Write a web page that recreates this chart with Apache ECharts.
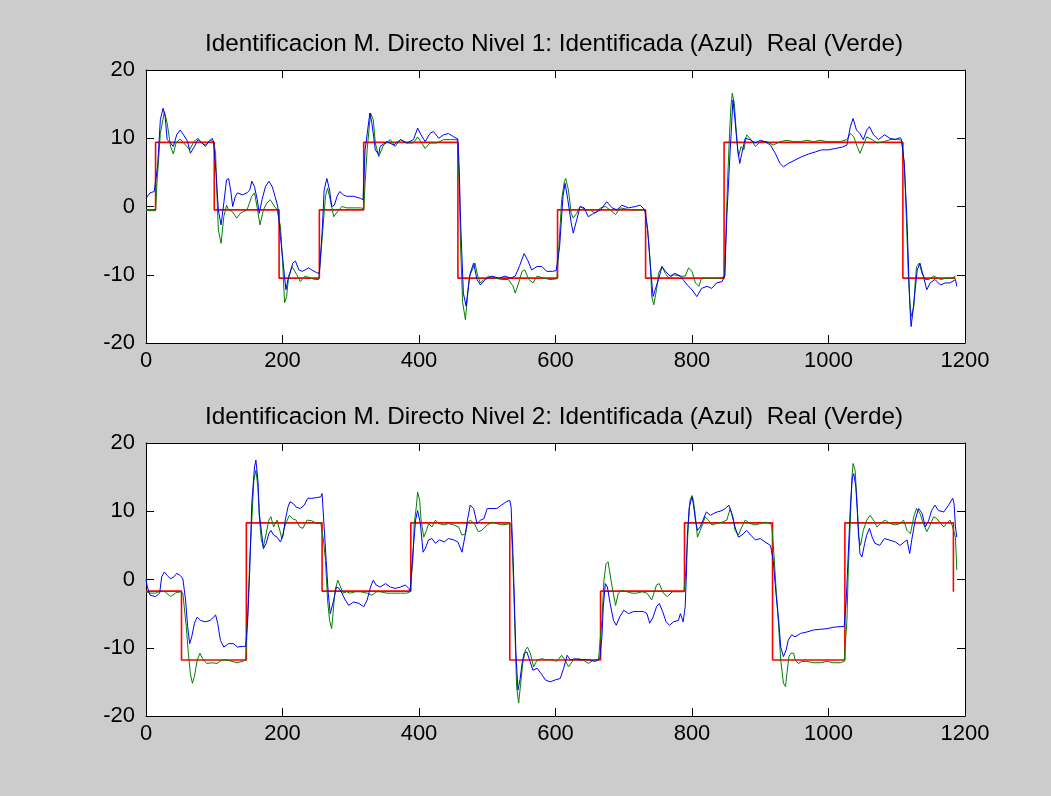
<!DOCTYPE html>
<html>
<head>
<meta charset="utf-8">
<script src="https://cdn.jsdelivr.net/npm/echarts@6/dist/echarts.min.js"></script>
<style>
  html, body { margin: 0; padding: 0; background: #cccccc; }
  #chart { width: 1051px; height: 796px; }
</style>
</head>
<body>
<div id="chart"></div>
<script>
// ejes
const xTicks = [0, 200, 400, 600, 800, 1000, 1200]
const yTicks = [-20, -10, 0, 10, 20]
const titles = [
  'Identificacion M. Directo Nivel 1: Identificada (Azul)  Real (Verde)',
  'Identificacion M. Directo Nivel 2: Identificada (Azul)  Real (Verde)'
]

// referencia (rojo), escalones
const stepX1 = [0, 14, 100, 195, 254, 319, 457, 603, 732, 847, 1109, 1186]
const stepY1 = [-0.5, 9.4, -0.5, -10.5, -0.5, 9.4, -10.5, -0.5, -10.5, 9.4, -10.5, -10.5]
const stepX2 = [0, 52, 147, 258, 388, 533, 666, 789, 918, 1024, 1183, 1183]
const stepY2 = [-1.7, -11.8, 8.3, -1.7, 8.3, -11.8, -1.7, 8.3, -11.8, 8.3, 8.3, -1.8]

// nivel 1 - real (verde)
const real1 = [[0,-0.6],[14,-0.6],[16,3.4],[21,10.7],[27,13.9],[31,12.2],[36,8.8],[40,7.7],[44,9.3],[50,9.9],[58,9.0],[64,8.3],[70,9.5],[76,10.0],[82,9.3],[87,9.0],[94,9.7],[99,9.5],[102,7.8],[104,1.5],[106,-3.4],[110,-5.4],[114,-1.5],[118,0.2],[121,-0.5],[126,-0.7],[133,-1.7],[138,-1.0],[148,-0.5],[155,1.5],[159,2.0],[163,-0.2],[167,-2.7],[172,-0.5],[177,0.5],[182,1.0],[187,0.2],[192,-0.5],[197,-2.9],[200,-7.8],[203,-14.1],[206,-13.2],[209,-10.2],[214,-8.8],[221,-10.0],[226,-11.0],[233,-10.2],[241,-10.5],[248,-10.7],[253,-10.7],[256,-7.3],[259,-3.4],[263,1.5],[266,2.7],[270,1.0],[275,-1.5],[281,-0.7],[287,0],[294,-0.2],[304,-0.2],[314,-0.2],[319,-0.3],[321,3.4],[324,8.3],[329,13.7],[333,12.7],[336,9.3],[341,7.3],[343,7.8],[348,9.0],[358,9.8],[365,8.8],[373,9.8],[382,9.3],[392,9.3],[398,10.2],[404,9.3],[409,8.5],[416,9.3],[426,9.3],[436,9.8],[446,9.8],[456,9.8],[459,3.4],[461,-6.3],[464,-14.1],[468,-16.6],[471,-13.2],[474,-10.2],[478,-9.3],[482,-8.3],[486,-10.2],[490,-11.2],[495,-10.7],[502,-10.2],[512,-10.5],[521,-10.7],[531,-10.7],[538,-11.7],[541,-12.7],[546,-11.2],[551,-9.5],[555,-9.3],[561,-10.7],[567,-11.2],[573,-10.2],[583,-10.5],[592,-10.7],[602,-10.6],[605,-5.9],[609,1.0],[613,3.7],[615,4.1],[619,2.4],[623,-1.0],[626,-1.7],[631,-1.0],[636,0],[644,-0.5],[651,-0.5],[658,-1.0],[666,-0.2],[673,0],[680,-0.5],[688,-1.2],[695,-0.2],[705,-0.4],[714,-0.5],[724,-0.5],[731,-0.5],[735,-3.4],[739,-8.3],[741,-13.2],[744,-14.4],[748,-12.2],[751,-9.8],[756,-8.8],[761,-9.8],[766,-10.5],[773,-10.0],[783,-10.2],[790,-10.2],[795,-9.0],[800,-9.5],[805,-11.2],[810,-11.7],[814,-10.5],[822,-10.5],[832,-10.5],[841,-10.5],[848,-10.2],[850,-2.9],[852,3.4],[855,10.7],[857,14.6],[859,16.6],[862,15.1],[865,10.7],[868,7.3],[872,8.8],[876,8.3],[880,10.5],[885,10.0],[893,8.8],[900,9.5],[910,9.5],[919,9.0],[929,9.5],[939,9.7],[949,9.5],[959,9.5],[968,9.7],[978,9.5],[988,9.7],[998,9.5],[1007,9.5],[1017,9.5],[1027,9.8],[1032,10.7],[1037,10.2],[1042,8.8],[1046,7.8],[1051,9.0],[1056,10.2],[1064,9.8],[1071,9.3],[1081,9.5],[1090,9.8],[1100,9.9],[1107,9.7],[1111,6.3],[1114,-1.5],[1117,-10.2],[1120,-15.1],[1122,-16.1],[1125,-14.6],[1127,-11.2],[1129,-8.8],[1133,-8.3],[1137,-9.8],[1142,-10.7],[1147,-10.7],[1154,-10.2],[1164,-10.7],[1173,-10.5],[1181,-10.5],[1186,-10.2]]

// nivel 1 - identificada (azul)
const ident1 = [[0,1.2],[6,2.0],[12,2.2],[17,5.9],[21,12.7],[25,14.4],[28,13.2],[31,9.8],[36,9.3],[40,8.8],[45,10.5],[50,11.2],[55,10.5],[61,9.5],[65,7.8],[71,8.8],[76,9.8],[82,9.3],[87,8.8],[92,9.5],[97,10.0],[99,9.5],[103,4.4],[106,-0.5],[110,-2.7],[114,0.5],[118,3.9],[121,4.1],[124,2.4],[127,0],[131,1.5],[134,2.0],[141,1.7],[148,2.0],[152,2.4],[155,3.7],[159,2.9],[163,1.0],[166,-1.0],[170,1.0],[175,2.9],[180,3.7],[185,2.9],[189,1.5],[193,0],[197,-4.4],[201,-8.3],[205,-12.2],[208,-10.7],[211,-9.8],[215,-8.3],[219,-8.0],[224,-9.3],[229,-9.5],[233,-9.3],[238,-9.0],[243,-9.3],[250,-9.7],[254,-9.8],[258,-3.9],[261,2.4],[265,4.1],[269,2.4],[272,0],[276,0.2],[280,1.5],[284,2.2],[289,1.7],[294,1.5],[304,1.5],[314,1.2],[318,1.0],[321,8.3],[328,13.7],[331,12.2],[336,8.3],[341,7.6],[343,8.8],[353,9.5],[363,9.0],[373,9.8],[382,9.3],[392,9.8],[398,11.5],[403,10.5],[409,9.5],[416,10.7],[421,11.0],[429,10.0],[436,10.5],[443,10.7],[451,10.2],[457,9.9],[459,5.4],[461,-2.4],[465,-12.7],[469,-14.6],[473,-11.2],[475,-9.8],[480,-8.3],[485,-10.7],[490,-11.5],[497,-10.7],[507,-10.2],[517,-10.5],[526,-10.2],[534,-10.5],[541,-10.2],[547,-8.8],[554,-6.9],[559,-7.8],[565,-9.3],[573,-8.8],[580,-8.8],[587,-9.5],[595,-9.5],[601,-9.4],[606,-5.9],[611,1.5],[614,3.4],[618,1.0],[623,-2.4],[626,-3.9],[631,-2.0],[636,0],[642,-0.2],[648,-1.5],[656,-1.0],[666,-0.5],[675,0.7],[683,-0.2],[690,-0.5],[697,0.2],[707,-0.2],[717,0],[724,0.2],[731,-0.5],[735,-3.4],[739,-8.8],[743,-13.2],[746,-12.2],[751,-10.7],[756,-8.8],[761,-9.5],[768,-10.2],[775,-9.8],[783,-10.2],[793,-11.5],[800,-12.2],[807,-13.2],[814,-12.0],[822,-11.7],[829,-12.0],[836,-11.2],[844,-11.0],[848,-10.2],[851,-1.5],[854,4.4],[856,8.3],[860,15.6],[863,12.7],[867,8.3],[870,6.3],[873,7.8],[878,10.0],[885,9.8],[893,9.3],[900,9.7],[907,9.5],[915,9.0],[922,7.8],[929,6.3],[934,5.8],[941,6.3],[951,6.8],[961,7.3],[971,7.7],[981,8.0],[990,8.3],[1000,8.3],[1010,8.5],[1020,8.7],[1027,9.0],[1032,11.7],[1036,12.9],[1041,11.2],[1046,10.7],[1051,9.8],[1056,11.2],[1060,11.7],[1066,10.5],[1073,9.8],[1082,10.5],[1090,10.0],[1098,9.8],[1105,10.1],[1107,9.8],[1111,6.3],[1115,-2.0],[1119,-14.1],[1121,-17.6],[1124,-15.1],[1127,-12.2],[1130,-9.3],[1134,-8.3],[1139,-10.2],[1144,-12.2],[1149,-11.2],[1156,-10.7],[1164,-11.5],[1171,-11.2],[1178,-11.2],[1186,-10.7],[1188,-11.7]]

// nivel 2 - real (verde)
const real2 = [[0,-1.8],[6,-2.0],[14,-2.0],[21,-1.7],[28,-1.8],[36,-2.5],[43,-2.0],[50,-1.8],[54,-2.0],[56,-4.0],[59,-6.9],[62,-10.8],[65,-13.8],[68,-15.2],[71,-14.2],[75,-11.8],[79,-10.8],[83,-11.6],[89,-12.3],[97,-12.2],[104,-12.3],[111,-11.8],[119,-11.8],[126,-12.0],[133,-12.2],[141,-12.0],[146,-11.8],[149,-5.0],[152,2.8],[155,8.7],[158,14.5],[161,16.0],[164,13.6],[166,9.2],[169,5.8],[172,4.8],[176,6.7],[180,8.7],[183,9.2],[187,7.7],[192,8.7],[196,7.2],[199,6.0],[203,7.7],[207,8.7],[210,9.4],[215,8.9],[220,8.7],[225,7.7],[230,7.5],[236,8.7],[243,8.6],[250,8.2],[256,8.3],[260,5.8],[263,2.8],[266,-3.0],[269,-6.0],[272,-7.2],[274,-5.0],[277,-1.6],[281,-0.1],[285,-1.1],[289,-2.0],[294,-1.8],[299,-2.0],[307,-1.8],[314,-1.8],[324,-2.0],[331,-2.3],[338,-1.8],[343,-1.8],[353,-2.0],[363,-2.0],[373,-2.0],[382,-2.0],[387,-1.8],[391,2.8],[393,8.2],[396,10.6],[398,12.8],[401,11.6],[403,8.7],[407,6.2],[411,7.2],[414,8.2],[419,7.7],[424,8.7],[429,8.2],[436,8.0],[443,8.2],[451,8.0],[458,7.7],[463,6.5],[468,6.7],[471,8.2],[475,8.7],[481,8.2],[487,7.0],[492,7.2],[500,8.0],[507,8.4],[514,8.2],[521,8.0],[529,8.1],[535,8.2],[537,3.8],[539,-2.0],[541,-8.9],[543,-15.7],[546,-18.1],[549,-15.2],[552,-12.3],[556,-10.3],[559,-9.9],[563,-10.8],[568,-12.8],[573,-11.8],[580,-11.6],[587,-11.8],[595,-11.7],[602,-12.0],[609,-11.1],[614,-11.8],[619,-12.8],[626,-11.8],[634,-11.6],[641,-11.8],[648,-12.3],[656,-11.8],[663,-11.7],[668,-6.0],[671,-0.1],[674,2.3],[677,2.6],[679,1.4],[683,-1.1],[688,-3.8],[692,-2.0],[697,-1.6],[705,-1.8],[712,-2.0],[719,-2.0],[727,-1.8],[734,-2.0],[741,-3.0],[748,-0.8],[752,-0.6],[758,-2.0],[764,-2.5],[771,-1.8],[778,-1.8],[783,-1.8],[788,-1.8],[790,-0.1],[793,4.8],[795,8.7],[797,11.6],[800,12.3],[802,11.6],[805,9.2],[808,6.2],[812,7.2],[816,8.2],[819,9.2],[824,8.7],[829,8.0],[836,8.2],[844,8.4],[851,8.7],[856,10.4],[860,9.2],[863,7.2],[868,6.5],[873,7.7],[878,8.7],[885,8.2],[893,8.0],[900,8.2],[907,8.4],[915,8.2],[917,7.7],[920,3.8],[923,-1.1],[927,-6.9],[930,-11.8],[934,-15.2],[937,-15.7],[939,-13.8],[942,-11.3],[945,-10.8],[949,-10.8],[951,-11.8],[956,-12.3],[961,-12.0],[968,-12.0],[978,-12.2],[988,-12.2],[998,-12.0],[1007,-12.2],[1017,-12.2],[1023,-12.0],[1027,-6.0],[1029,1.4],[1032,8.7],[1034,14.5],[1036,17.0],[1039,16.0],[1042,11.1],[1044,6.2],[1047,5.0],[1051,7.2],[1056,8.7],[1061,9.4],[1066,8.7],[1071,7.7],[1076,8.2],[1083,8.7],[1090,8.2],[1098,8.0],[1105,8.2],[1110,8.7],[1115,7.2],[1120,6.7],[1125,9.2],[1129,10.4],[1134,9.7],[1139,8.2],[1144,7.0],[1149,8.0],[1154,9.2],[1159,8.9],[1164,8.2],[1169,7.7],[1173,8.2],[1178,8.7],[1182,7.7],[1186,6.2],[1188,1.4]]

// nivel 2 - identificada (azul)
const ident2 = [[0,0],[2,-1.1],[6,-2.3],[14,-2.5],[20,-2.0],[23,0.4],[27,1.1],[31,0.6],[36,0.1],[41,0.4],[45,0.9],[50,0.6],[54,0.1],[58,-3.0],[61,-6.9],[64,-9.4],[67,-8.4],[71,-6.4],[75,-5.5],[80,-6.0],[87,-6.2],[94,-6.0],[102,-5.2],[105,-6.4],[109,-8.9],[114,-9.9],[121,-9.4],[128,-9.4],[134,-9.9],[141,-9.8],[146,-9.8],[149,-6.0],[152,1.4],[155,11.1],[159,16.5],[161,17.5],[164,14.5],[166,9.7],[169,7.2],[172,4.5],[176,5.3],[180,6.7],[183,7.2],[187,6.5],[192,6.2],[197,5.5],[201,6.5],[204,8.7],[208,10.6],[211,11.4],[216,11.1],[220,10.6],[226,10.4],[232,10.9],[237,11.9],[243,11.9],[250,12.0],[256,12.1],[258,12.6],[261,7.7],[264,2.8],[267,-2.0],[270,-5.0],[272,-5.0],[275,-3.0],[279,-1.1],[283,-1.3],[287,-2.0],[292,-3.0],[297,-3.8],[304,-3.3],[312,-3.5],[319,-4.0],[324,-3.0],[329,-1.1],[333,-0.1],[337,-0.8],[343,-1.1],[351,-0.6],[358,-1.1],[365,-1.3],[373,-1.1],[380,-0.8],[385,-1.3],[387,-1.7],[391,3.8],[395,8.7],[398,10.1],[402,8.2],[406,4.0],[409,4.5],[414,5.8],[419,6.0],[424,5.3],[430,5.8],[437,5.5],[443,6.0],[451,5.8],[457,5.5],[463,4.0],[468,6.7],[471,8.7],[475,10.9],[480,10.4],[485,8.2],[490,8.7],[495,8.9],[500,10.4],[507,10.4],[514,10.4],[521,10.9],[528,11.4],[533,11.6],[535,10.6],[538,2.8],[540,-4.0],[542,-10.8],[545,-16.2],[548,-14.7],[551,-12.3],[554,-10.8],[558,-10.6],[562,-11.8],[567,-13.3],[573,-13.0],[579,-13.8],[585,-14.7],[592,-15.0],[600,-14.7],[607,-14.5],[612,-13.0],[617,-11.1],[622,-11.8],[629,-11.6],[636,-11.8],[644,-11.7],[651,-11.8],[658,-12.0],[665,-11.6],[668,-8.4],[670,-4.0],[673,-0.6],[676,-1.1],[680,-3.5],[685,-6.0],[689,-6.7],[694,-5.5],[700,-4.5],[707,-5.0],[714,-4.7],[722,-4.7],[729,-4.7],[734,-5.0],[738,-6.4],[743,-5.5],[748,-4.0],[752,-3.5],[757,-4.7],[762,-6.2],[767,-6.7],[773,-6.2],[780,-6.0],[783,-5.0],[787,-6.2],[790,-4.0],[792,1.4],[793,6.2],[796,10.6],[800,12.1],[802,11.1],[805,8.7],[808,7.2],[812,7.7],[816,8.7],[821,9.9],[827,9.4],[832,9.7],[837,9.9],[844,10.1],[849,10.4],[854,10.9],[858,9.7],[863,7.7],[868,6.2],[873,6.5],[880,7.2],[886,6.5],[893,5.8],[900,6.0],[907,5.5],[915,5.0],[919,2.8],[923,-2.0],[927,-6.0],[930,-9.9],[934,-11.3],[938,-10.3],[941,-8.9],[946,-8.1],[951,-8.4],[959,-7.9],[968,-7.7],[978,-7.4],[988,-7.3],[998,-7.2],[1007,-7.0],[1017,-6.9],[1023,-6.9],[1026,-3.0],[1029,3.8],[1032,10.6],[1035,15.0],[1037,15.5],[1040,13.6],[1043,8.7],[1046,3.8],[1049,3.3],[1053,5.3],[1056,6.5],[1060,7.5],[1064,6.2],[1068,5.3],[1075,5.0],[1082,6.0],[1089,5.8],[1098,5.5],[1105,5.0],[1111,5.5],[1115,5.8],[1119,3.8],[1122,5.8],[1127,8.7],[1132,10.4],[1137,9.7],[1142,7.7],[1147,8.7],[1151,10.1],[1156,10.9],[1161,10.1],[1169,9.9],[1176,10.9],[1182,11.9],[1184,11.1],[1186,7.7],[1188,6.2]]

const FONT = '"Liberation Sans", Arial, sans-serif'
const plotTops = [70, 443]
const plotH = 273

const chart = echarts.init(document.getElementById('chart'))

const xAxisFor = (gi, pos) => ({
  type: 'value',
  gridIndex: gi,
  position: pos,
  min: xTicks[0],
  max: xTicks[xTicks.length - 1],
  interval: xTicks[1] - xTicks[0],
  axisLine: { show: true, onZero: false, lineStyle: { color: '#000', width: 1 } },
  axisTick: { show: true, inside: true, length: 8, lineStyle: { color: '#000' } },
  axisLabel: {
    show: pos === 'bottom',
    color: '#000',
    fontFamily: FONT,
    fontSize: 22,
    margin: 7,
    formatter: v => String(v)
  },
  splitLine: { show: false }
})

const yAxisFor = (gi, pos) => ({
  type: 'value',
  gridIndex: gi,
  position: pos,
  min: yTicks[0],
  max: yTicks[yTicks.length - 1],
  interval: yTicks[1] - yTicks[0],
  axisLine: { show: true, onZero: false, lineStyle: { color: '#000', width: 1 } },
  axisTick: { show: true, inside: true, length: 8, lineStyle: { color: '#000' } },
  axisLabel: {
    show: pos === 'left',
    color: '#000',
    fontFamily: FONT,
    fontSize: 22,
    margin: 11,
    formatter: v => String(v)
  },
  splitLine: { show: false }
})

const lineSeries = (data, color, width, xi, yi, z, step) => ({
  type: 'line',
  data: data,
  xAxisIndex: xi,
  yAxisIndex: yi,
  step: step || false,
  showSymbol: false,
  symbol: 'none',
  z: z,
  lineStyle: { color: color, width: width },
  emphasis: { disabled: true }
})

const steps1 = stepX1.map((x, i) => [x, stepY1[i]])
const steps2 = stepX2.map((x, i) => [x, stepY2[i]])

chart.setOption({
  backgroundColor: '#cccccc',
  animation: false,
  title: titles.map((t, i) => ({
    text: t,
    left: 549,
    textAlign: 'center',
    top: plotTops[i] - 43,
    textStyle: { fontFamily: FONT, fontSize: 24.3, fontWeight: 'normal', color: '#000' }
  })),
  grid: plotTops.map(top => ({
    left: 146,
    width: 819,
    top: top,
    height: plotH,
    show: true,
    backgroundColor: '#ffffff',
    borderWidth: 0
  })),
  xAxis: [xAxisFor(0, 'bottom'), xAxisFor(0, 'top'), xAxisFor(1, 'bottom'), xAxisFor(1, 'top')],
  yAxis: [yAxisFor(0, 'left'), yAxisFor(0, 'right'), yAxisFor(1, 'left'), yAxisFor(1, 'right')],
  series: [
    lineSeries(steps1, '#ff0000', 1.6, 0, 0, 2, 'end'),
    lineSeries(real1, '#008000', 1, 0, 0, 3),
    lineSeries(ident1, '#0000ff', 1, 0, 0, 4),
    lineSeries(steps2, '#ff0000', 1.6, 2, 2, 2, 'end'),
    lineSeries(real2, '#008000', 1, 2, 2, 3),
    lineSeries(ident2, '#0000ff', 1, 2, 2, 4)
  ]
})
</script>
</body>
</html>
